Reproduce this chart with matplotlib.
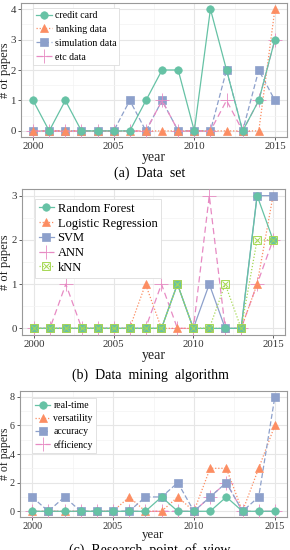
import matplotlib
matplotlib.use("Agg")
import matplotlib.pyplot as plt
from matplotlib.legend_handler import HandlerTuple
import numpy as np

years = list(range(2000, 2016))

# Panel (a) Data set
credit_card = [1, 0, 1, 0, 0, 0, 0, 1, 2, 2, 0, 4, 2, 0, 1, 3]
banking_data = [0, 0, 0, 0, 0, 0, 0, 0, 0, 0, 0, 0, 0, 0, 0, 4]
simulation_data = [0, 0, 0, 0, 0, 0, 1, 0, 1, 0, 0, 0, 2, 0, 2, 1]
etc_data = [0, 0, 0, 0, 0, 0, 0, 0, 1, 0, 0, 0, 1, 0, 1, 3]

# Panel (b) Data mining algorithm
random_forest = [0, 0, 0, 0, 0, 0, 0, 0, 0, 1, 0, 0, 0, 0, 3, 2]
logistic_regression = [0, 0, 0, 0, 0, 0, 0, 1, 0, 0, 0, 0, 0, 0, 1, 3]
svm = [0, 0, 0, 0, 0, 0, 0, 0, 0, 1, 0, 1, 0, 0, 3, 3]
ann = [0, 0, 1, 0, 0, 0, 0, 0, 1, 0, 0, 3, 0, 0, 1, 2]
knn = [0, 0, 0, 0, 0, 0, 0, 0, 0, 1, 0, 0, 1, 0, 2, 2]

# Panel (c) Research point of view
real_time = [0, 0, 0, 0, 0, 0, 0, 0, 1, 0, 0, 0, 1, 0, 0, 0]
versatility = [0, 0, 0, 0, 0, 0, 1, 0, 0, 1, 0, 3, 3, 0, 3, 6]
accuracy = [1, 0, 1, 0, 0, 0, 0, 1, 1, 2, 0, 1, 2, 0, 1, 8]
efficiency = [0, 0, 0, 0, 0, 0, 0, 0, 0, 0, 0, 1, 2, 0, 0, 0]

captions = ["(a)  Data  set", "(b)  Data  mining  algorithm", "(c)  Research  point  of  view"]

C = ["#66c2a5", "#fc8d62", "#8da0cb", "#e78ac3", "#a6d854"]
FONT = ["Liberation Serif", "DejaVu Serif"]
plt.rcParams['font.family'] = FONT

W, H = 290, 550
fig = plt.figure(figsize=(W / 100, H / 100), dpi=100)

def ax_px(left, top, right, bottom):
    a = fig.add_axes([left / W, 1 - bottom / H, (right - left) / W, (bottom - top) / H])
    a._px = (left, top, right, bottom)
    return a

STYLES = {
    "circle": dict(marker="o", ms=5.4),
    "tri": dict(marker="^", ms=6.2),
    "square": dict(marker="s", ms=5.4),
    "plus": dict(marker="+", ms=9.5, mew=0.6),
    "sqx": dict(marker="s", ms=5.8, mfc="none", mew=0.7),
}

def draw_series(ax, vals, label, color, shape, ls, lw=0.9):
    st = dict(STYLES[shape])
    if shape == "sqx":
        ax.plot(years, vals, color=color, ls=ls, lw=lw, marker="s", ms=st["ms"],
                mfc="none", mec=color, mew=0.7, zorder=3)
        ax.plot(years, vals, color=color, ls="none", marker="x", ms=st["ms"] * 0.75,
                mew=0.7, zorder=3)
        h, = ax.plot([], [], color=color, ls=ls, lw=lw, marker="s", ms=st["ms"],
                     mfc="none", mec=color, mew=0.7)
        h2, = ax.plot([], [], color=color, ls="none", marker="x", ms=st["ms"] * 0.75, mew=0.7)
        return (h, h2), label
    mew = st.pop("mew", 0.5)
    h, = ax.plot(years, vals, color=color, ls=ls, lw=lw, mec=color, mfc=color,
                 mew=mew, zorder=3, **st)
    return h, label

def style_axes(ax, ylim, yticks, yminor, tfs=7.8, xfs=10, yfs=9, ylx=5.5):
    ax.set_xlim(1999.25, 2015.75)
    ax.set_ylim(*ylim)
    ax.set_xticks([2000, 2005, 2010, 2015])
    ax.set_xticks([2002.5, 2007.5, 2012.5], minor=True)
    ax.set_yticks(yticks)
    ax.set_yticks(yminor, minor=True)
    ax.grid(True, which="major", color="#e6e6e6", lw=0.8, zorder=0)
    ax.grid(True, which="minor", color="#f3f3f3", lw=0.5, zorder=0)
    ax.set_axisbelow(True)
    for s in ax.spines.values():
        s.set_color("#999999")
        s.set_linewidth(0.8)
    ax.tick_params(axis="both", which="major", length=2.5, width=0.6, color="#444444",
                   labelsize=tfs, labelcolor="#333333", pad=1.2)
    ax.tick_params(axis="both", which="minor", length=0)
    ax.set_xlabel("year", fontsize=xfs, labelpad=0, color="#222222")
    ax.set_ylabel("# of papers", fontsize=yfs, color="#222222", va="center")
    left, top, right, bottom = ax._px
    ax.yaxis.set_label_coords((ylx - left) / (right - left), 0.5)

def legend(ax, hs, ls_, x_px, y_px, fs=8.4, sp=0.3, hl=1.4):
    left, top, right, bottom = ax._px
    lg = ax.legend(hs, ls_, loc="upper left",
                   bbox_to_anchor=((x_px - left) / (right - left), 1 - (y_px - top) / (bottom - top)),
                   fontsize=fs, frameon=True, fancybox=False, edgecolor="#dddddd", framealpha=1,
                   handlelength=hl, handletextpad=0.3, labelspacing=sp,
                   borderpad=0.3, borderaxespad=0.0,
                   handler_map={tuple: HandlerTuple(ndivide=1)})
    lg.get_frame().set_linewidth(0.6)

# ---------- Panel a ----------
ax = ax_px(21, 3, 287, 137)
hs = []
hs.append(draw_series(ax, simulation_data, "simulation data", C[2], "square", (0, (4, 2))))
hs.append(draw_series(ax, etc_data, "etc data", C[3], "plus", (0, (5, 3))))
hs.append(draw_series(ax, banking_data, "banking data", C[1], "tri", (0, (1, 1.5))))
hs.append(draw_series(ax, credit_card, "credit card", C[0], "circle", "-"))
order = [3, 2, 0, 1]
style_axes(ax, (-0.2, 4.2), [0, 1, 2, 3, 4], [0.5, 1.5, 2.5, 3.5])
legend(ax, [hs[i][0] for i in order], [hs[i][1] for i in order], 33, 8, fs=7.1, sp=0.5, hl=1.6)
fig.text(150 / W, 1 - 173 / H, captions[0], ha="center", va="center", fontsize=10)

# ---------- Panel b ----------
ax = ax_px(22, 189, 285, 335)
hs = []
hs.append(draw_series(ax, ann, "ANN", C[3], "plus", (0, (5, 3))))
hs.append(draw_series(ax, logistic_regression, "Logistic Regression", C[1], "tri", (0, (1, 1.5))))
hs.append(draw_series(ax, svm, "SVM", C[2], "square", "-"))
hs.append(draw_series(ax, random_forest, "Random Forest", C[0], "circle", "-"))
hs.append(draw_series(ax, knn, "kNN", C[4], "sqx", (0, (1, 1.5))))
order = [3, 1, 2, 0, 4]
style_axes(ax, (-0.15, 3.15), [0, 1, 2, 3], [0.5, 1.5, 2.5])
legend(ax, [hs[i][0] for i in order], [hs[i][1] for i in order], 35, 199, fs=9.0, sp=0.22, hl=1.2)
fig.text(150 / W, 1 - 375 / H, captions[1], ha="center", va="center", fontsize=10)

# ---------- Panel c ----------
ax = ax_px(20, 391, 287, 517)
hs = []
hs.append(draw_series(ax, efficiency, "efficiency", C[3], "plus", (0, (5, 3))))
hs.append(draw_series(ax, versatility, "versatility", C[1], "tri", (0, (1, 1.5))))
hs.append(draw_series(ax, accuracy, "accuracy", C[2], "square", (0, (4, 2))))
hs.append(draw_series(ax, real_time, "real-time", C[0], "circle", "-"))
order = [3, 1, 2, 0]
style_axes(ax, (-0.4, 8.4), [0, 2, 4, 6, 8], [1, 3, 5, 7], tfs=7.3, xfs=9.3, yfs=8.5, ylx=5.0)
ax.xaxis.labelpad = -1.5
legend(ax, [hs[i][0] for i in order], [hs[i][1] for i in order], 32, 398, fs=7.0, sp=0.42, hl=1.6)
fig.text(150 / W, 1 - 550 / H, captions[2], ha="center", va="center", fontsize=10)

fig.savefig("out.png", dpi=100)
